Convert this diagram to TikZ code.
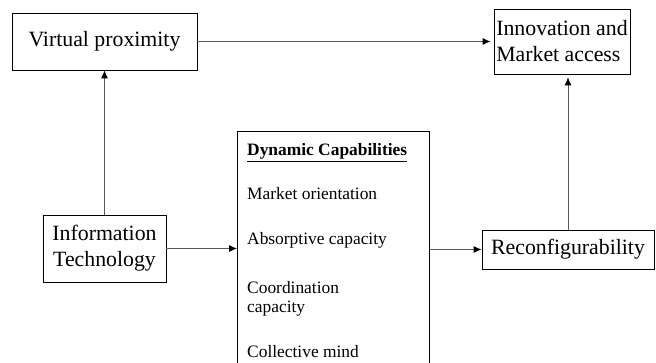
\documentclass[tikz,border=0pt]{standalone}
\usepackage{fontspec}
\setmainfont{Liberation Serif}
\usetikzlibrary{arrows.meta,positioning}

\begin{document}
\begin{tikzpicture}[
x=1pt, y=-1pt,
font=\fontsize{21.8}{26}\selectfont,
box/.style={draw=black, line width=0.8pt, inner sep=0pt, anchor=center},
item/.style={anchor=base west, inner sep=0pt, align=left, font=\fontsize{17.4}{20}\selectfont},
link/.style={draw=black!65, line width=0.8pt, -{Latex[black, length=8pt, width=7pt]}},
]
\clip (0,0) rectangle (656,363);

\node[box, minimum width=185pt, minimum height=57pt] (vp) at (104.5,41.5) {Virtual proximity};
\node[box, minimum width=136pt, minimum height=65pt, align=left] (inno) at (562,41.5) {Innovation and\\Market access};
\node[box, minimum width=123pt, minimum height=67pt, align=center] (it) at (104.5,248.5) {Information\\Technology};
\node[box, minimum width=172pt, minimum height=39pt] (reconf) at (568,249.5) {Reconfigurability};
\node[box, anchor=north west, minimum width=192pt, minimum height=260pt] (dc) at (237,131) {};

\node[item] (title) at (247,156) {\underline{\textbf{Dynamic Capabilities}}};
\node[item] (market) at (247,200) {Market orientation};
\node[item] (absorb) at (247,245) {Absorptive capacity};
\node[item] (coord) at (247,313) {Coordination\\capacity};
\node[item] (mind) at (247,357) {Collective mind};

\draw[link, shorten >=3pt] (vp) -- (inno);
\draw[link] (it) -- (vp);
\draw[link] (it.east) -- (it.east -| dc.west);
\draw[link] (dc.east |- reconf) -- (reconf.west);
\draw[link, shorten >=3pt] (reconf.north) -- (reconf.north |- inno.south);

\end{tikzpicture}
\end{document}
